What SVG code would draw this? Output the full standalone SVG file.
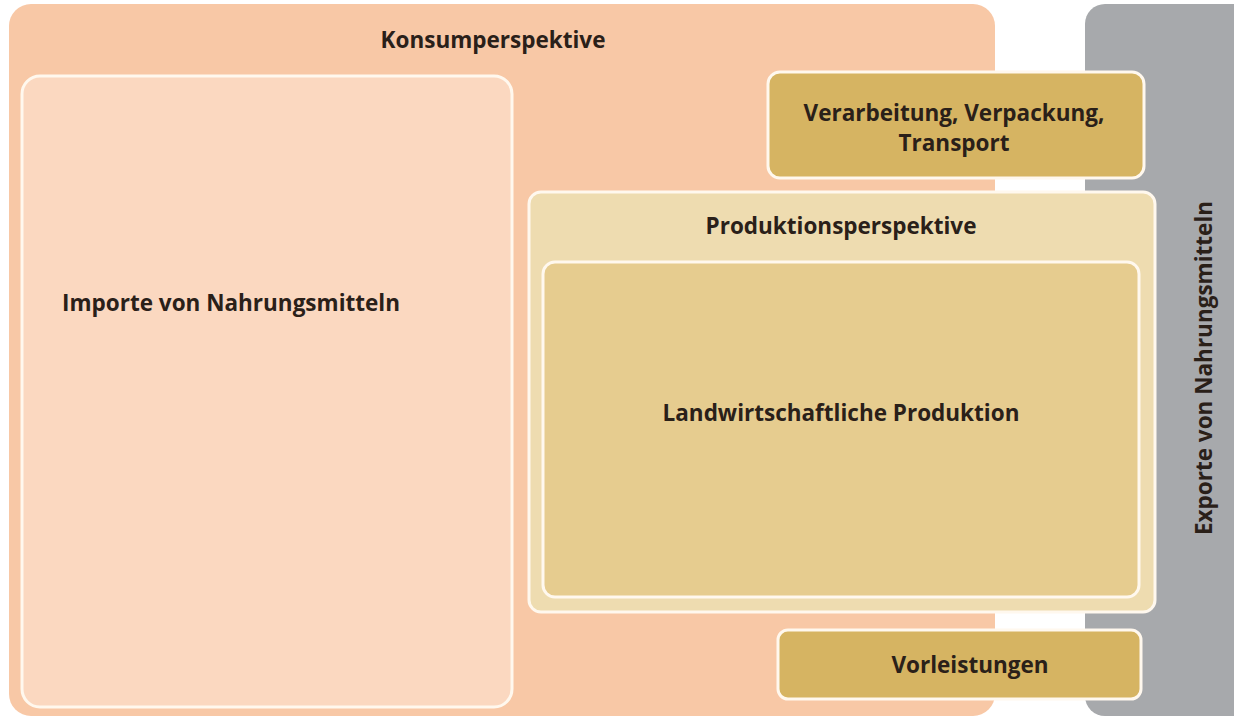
<svg xmlns="http://www.w3.org/2000/svg" width="1234" height="718" viewBox="0 0 1234 718">
  <style>
    .lbl { font-family: "Open Sans", "Noto Sans", "Liberation Sans", sans-serif; font-weight: bold; font-size: 22.5px; fill: #2a2019; }
    .mid { text-anchor: middle; }
    .box { stroke: #fff8ee; stroke-width: 3; }
  </style>
  <rect width="1234" height="718" fill="#ffffff"/>

  <!-- consumption perspective frame -->
  <g id="konsum">
    <rect x="9" y="4" width="986" height="712" rx="22" fill="#f8c8a6"/>
    <text class="lbl mid" x="493" y="48">Konsumperspektive</text>
  </g>

  <!-- exports band on the right -->
  <g id="exporte">
    <rect x="1085" y="4" width="170" height="712" rx="20" fill="#a7a9ac"/>
    <text class="lbl mid" transform="translate(1212,368) rotate(-90)">Exporte von Nahrungsmitteln</text>
  </g>

  <g id="importe">
    <rect class="box" x="22" y="76" width="490" height="631" rx="18" fill="#fbd8c0"/>
    <text class="lbl" x="62" y="311">Importe von Nahrungsmitteln</text>
  </g>

  <g id="verarbeitung">
    <rect class="box" x="768" y="72" width="376" height="106" rx="12" fill="#d6b462"/>
    <text class="lbl mid" x="954" y="121">Verarbeitung, Verpackung,</text>
    <text class="lbl mid" x="954" y="151">Transport</text>
  </g>

  <g id="produktion">
    <rect class="box" x="529" y="192" width="626" height="420" rx="12" fill="#eedcb0"/>
    <text class="lbl mid" x="841" y="234">Produktionsperspektive</text>
  </g>

  <g id="landwirtschaft">
    <rect class="box" x="543" y="262" width="596" height="335" rx="12" fill="#e6cc8f"/>
    <text class="lbl mid" x="841" y="421">Landwirtschaftliche Produktion</text>
  </g>

  <g id="vorleistungen">
    <rect class="box" x="778" y="630" width="363" height="69" rx="10" fill="#d6b462"/>
    <text class="lbl mid" x="970" y="673">Vorleistungen</text>
  </g>

  <g id="connectors"></g>
</svg>
